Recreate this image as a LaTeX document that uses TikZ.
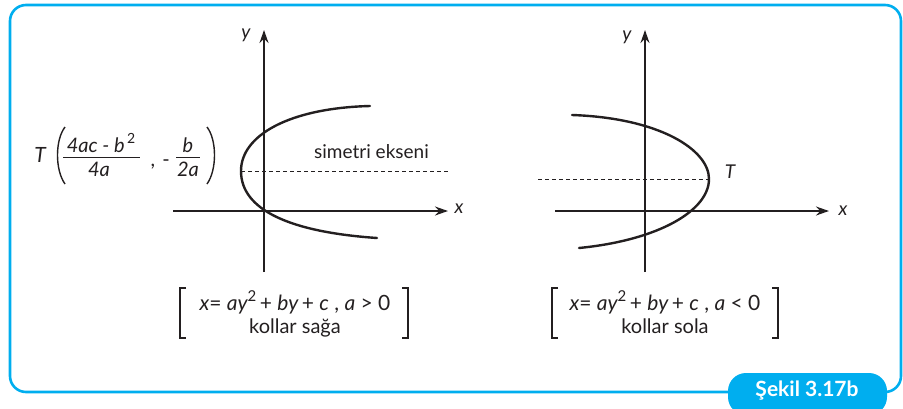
\documentclass[tikz,border=0pt]{standalone}
\usepackage{fontspec}
\setmainfont{Lato}
\usetikzlibrary{arrows.meta}
\definecolor{framec}{HTML}{00AEEF}
\definecolor{ink}{HTML}{231F20}
\begin{document}
\begin{tikzpicture}[x=1pt,y=-1pt,
  axis/.style={line width=1.8pt, ink, -{Stealth[length=13pt,width=9pt]}},
  curve/.style={line width=2.4pt, ink, line cap=round},
  symline/.style={line width=0.9pt, ink, dash pattern=on 4pt off 3pt},
  lbl/.style={inner sep=0pt, text=ink, font=\fontsize{19}{21}\selectfont},
  itl/.style={lbl, font=\fontsize{19}{21}\selectfont\itshape},
  eq/.style={inner sep=0pt, text=ink, font=\fontsize{21}{23}\selectfont},
  brk/.style={line width=1.3pt, ink},
  frm/.style={line width=2.6pt, framec}
]
\useasboundingbox (0,0) rectangle (903,408);
\begin{scope}
\clip (0,0) rectangle (903,408);
% frame
\draw[frm, rounded corners=16pt] (10,5) rectangle (901,392);
\fill[framec, rounded corners=18pt] (728,373) rectangle (887,415);
\end{scope}
\node[inner sep=0pt, text=white, font=\fontsize{21}{23}\selectfont\bfseries] (sekil) at (807,391) {Şekil 3.17b};

% ---------- left graph ----------
\coordinate (xLs) at (173,211);
\coordinate (xLe) at (448,211);
\coordinate (yLs) at (264,272);
\coordinate (yLe) at (264,30);
\draw[axis] (xLs) -- (xLe);
\draw[axis] (yLs) -- (yLe);
\node[itl] (xL) at (459,209) {x};
\node[itl] (yL) at (246,35) {y};
\coordinate (vL) at (241,171);
\coordinate (dLe) at (448,171);
\draw[symline] (vL) -- (dLe);
\draw[curve] (370,106) .. controls (290,108) and (241,135) .. (vL) .. controls (241,210) and (290,232) .. (377,238);
\node[lbl, anchor=base west] (sym) at (314,158) {simetri ekseni};

% vertex formula
\node[itl, font=\fontsize{21}{23}\selectfont\itshape] (T1) at (40,155) {T};
\draw[line width=1.4pt, ink] (65,127) .. controls (55,140) and (55,170) .. (65,184);
\draw[line width=1.4pt, ink] (207,127) .. controls (217,140) and (217,170) .. (207,184);
\node[itl, font=\fontsize{20}{22}\selectfont\itshape, anchor=base] (num1) at (101,152) {4ac - b\raisebox{0.45em}{\upshape\fontsize{14}{14}\selectfont\,2}};
\draw[line width=1pt, ink] (63,157) -- (140,157);
\node[itl, font=\fontsize{20}{22}\selectfont\itshape, anchor=base] (den1) at (99,176) {4a};
\node[lbl, font=\fontsize{20}{22}\selectfont, anchor=base] (comma) at (153,166) {,};
\node[lbl, font=\fontsize{20}{22}\selectfont, anchor=base] (minus) at (166,166) {-};
\node[itl, font=\fontsize{20}{22}\selectfont\itshape, anchor=base] (num2) at (188,152) {b};
\draw[line width=1pt, ink] (176,157) -- (200,157);
\node[itl, font=\fontsize{20}{22}\selectfont\itshape, anchor=base] (den2) at (188,176) {2a};

% bracket left
\draw[brk] (186,288) -- (180,288) -- (180,338) -- (186,338);
\draw[brk] (402,288) -- (408,288) -- (408,338) -- (402,338);
\node[eq, anchor=base] (eqL) at (295,310) {\itshape x\upshape=\ \itshape ay\raisebox{0.42em}{\upshape\fontsize{15}{15}\selectfont 2}\upshape\,+\ \itshape by\upshape\,+\ \itshape c\upshape\ , \itshape a\upshape\ > 0};
\node[eq, anchor=base, font=\fontsize{20}{22}\selectfont] (kL) at (295,333) {kollar sağa};

% ---------- right graph ----------
\coordinate (xRs) at (555,211);
\coordinate (xRe) at (829,211);
\coordinate (yRs) at (645,272);
\coordinate (yRe) at (645,30);
\draw[axis] (xRs) -- (xRe);
\draw[axis] (yRs) -- (yRe);
\node[itl] (xR) at (843,211) {x};
\node[itl] (yR) at (627,37) {y};
\coordinate (vR) at (709,179);
\coordinate (dRs) at (538,179);
\draw[symline] (dRs) -- (vR);
\draw[curve] (572,115) .. controls (660,118) and (709,150) .. (vR) .. controls (709,210) and (660,240) .. (579,248);
\node[itl] (TR) at (730,172) {T};

\draw[brk] (558,288) -- (552,288) -- (552,338) -- (558,338);
\draw[brk] (772,288) -- (778,288) -- (778,338) -- (772,338);
\node[eq, anchor=base] (eqR) at (665,310) {\itshape x\upshape=\ \itshape ay\raisebox{0.42em}{\upshape\fontsize{15}{15}\selectfont 2}\upshape\,+\ \itshape by\upshape\,+\ \itshape c\upshape\ , \itshape a\upshape\ < 0};
\node[eq, anchor=base, font=\fontsize{20}{22}\selectfont] (kR) at (665,333) {kollar sola};
\end{tikzpicture}
\end{document}
